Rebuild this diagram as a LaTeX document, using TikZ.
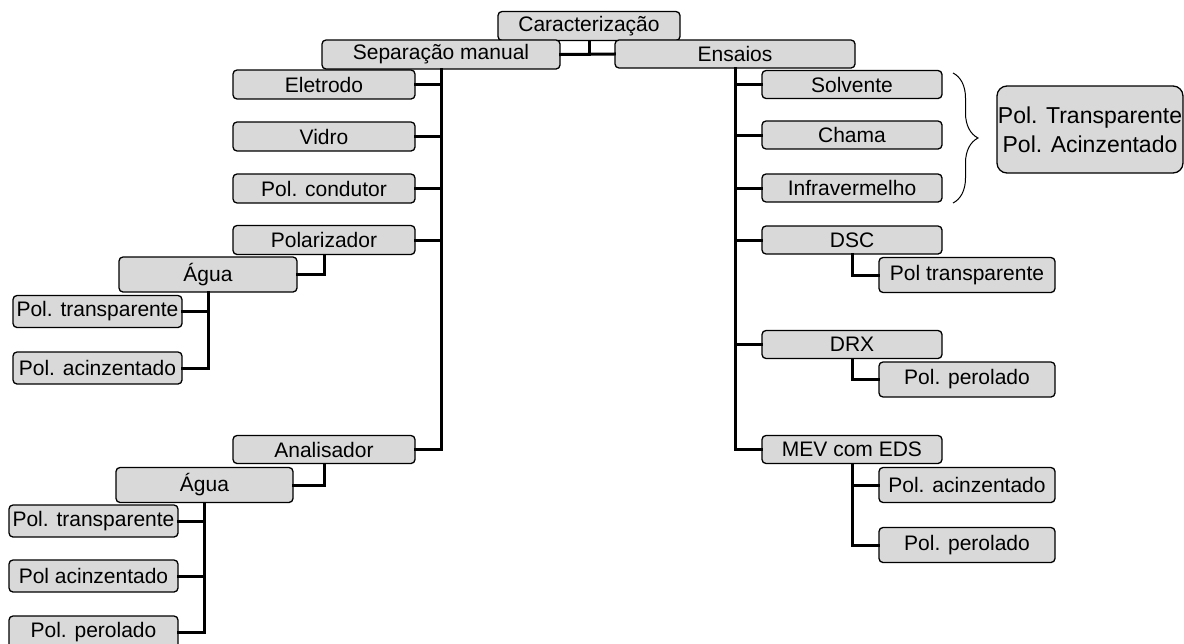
\documentclass[tikz,border=0pt]{standalone}
\usepackage{fontspec}
\setmainfont{Liberation Sans}
\usetikzlibrary{decorations.pathreplacing}
\begin{document}
\begin{tikzpicture}[x=1pt,y=-1pt,
  bx/.style={draw=black,line width=1.3pt,fill=gray!30,rounded corners=4pt,
    inner sep=0pt,minimum width=182pt,minimum height=29pt,
    font=\fontsize{21}{24}\selectfont},
  cbx/.style={bx,minimum width=176pt,minimum height=35pt},
  lbx/.style={bx,minimum width=169pt,minimum height=32pt},
  ln/.style={line width=3pt,line cap=rect}]
\useasboundingbox (0,0) rectangle (1184,643);
% top
\node[bx] (car) at (589,26) {Caracterização};
\node[bx,minimum width=238pt] (sep) at (441,54.5) {Separação manual};
\node[bx,minimum width=240pt,minimum height=28pt] (ens) at (735,54) {Ensaios};
% left
\node[bx] (ele) at (324,84.5) {Eletrodo};
\node[bx] (vid) at (324,136.5) {Vidro};
\node[bx] (con) at (324,188.5) {Pol. condutor};
\node[bx] (pol) at (324,240) {Polarizador};
\node[cbx,minimum width=178pt] (ag1) at (208,274.5) {Água};
\node[lbx] (pt1) at (97.5,311.5) {Pol. transparente};
\node[lbx] (pa1) at (97.5,368) {Pol. acinzentado};
\node[bx,minimum height=28pt] (ana) at (324,449.5) {Analisador};
\node[cbx,minimum width=177pt] (ag2) at (204.5,485) {Água};
\node[lbx] (pt2) at (93.5,521) {Pol. transparente};
\node[lbx] (pa2) at (93.5,576) {Pol acinzentado};
\node[lbx] (pp2) at (93.5,632) {Pol. perolado};
% right
\node[bx,minimum width=180pt,minimum height=28pt] (sol) at (852,84.5) {Solvente};
\node[bx,minimum width=180pt,minimum height=28pt] (cha) at (852,135) {Chama};
\node[bx,minimum width=180pt,minimum height=28pt] (inf) at (852,188) {Infravermelho};
\node[bx,minimum width=180pt,minimum height=28pt] (dsc) at (852,240) {DSC};
\node[cbx] (dscc) at (967,275) {Pol transparente};
\node[bx,minimum width=180pt,minimum height=28pt] (drx) at (852,344.5) {DRX};
\node[cbx] (drxc) at (967,379.5) {Pol. perolado};
\node[bx,minimum width=180pt,minimum height=28pt] (mev) at (852,449.5) {MEV com EDS};
\node[cbx] (mev1) at (967,485) {Pol. acinzentado};
\node[cbx] (mev2) at (967,545) {Pol. perolado};
\node[bx,minimum width=186pt,minimum height=87pt,rounded corners=10pt,
  align=center,font=\fontsize{23}{29}\selectfont] (big) at (1090,129.5)
  {Pol. Transparente\\Pol. Acinzentado};
% brace
\coordinate (bt) at (953,73);
\coordinate (bb) at (953,203);
\draw[line width=1pt,decorate,decoration={brace,amplitude=25pt,aspect=0.5}] (bt) -- (bb);
% connectors
\draw[ln] (car.south) -- (car.south |- ens.west);
\draw[ln] (sep.east) -- (ens.west);
\draw[ln] (sep.south) |- (ana.east);
\foreach \n in {ele,vid,con,pol} \draw[ln] (\n.east) -- (\n.east -| sep.south);
\draw[ln] (pol.south) |- (ag1.east);
\draw[ln] (ag1.south) |- (pa1.east);
\draw[ln] (pt1.east) -- (pt1.east -| ag1.south);
\draw[ln] (ana.south) |- (ag2.east);
\draw[ln] (ag2.south) |- (pp2.east);
\foreach \n in {pt2,pa2} \draw[ln] (\n.east) -- (\n.east -| ag2.south);
\draw[ln] (ens.south) |- (mev.west);
\foreach \n in {sol,cha,inf,dsc,drx} \draw[ln] (\n.west) -- (\n.west -| ens.south);
\draw[ln] (dsc.south) |- (dscc.west);
\draw[ln] (drx.south) |- (drxc.west);
\draw[ln] (mev.south) |- (mev2.west);
\draw[ln] (mev1.west) -- (mev1.west -| mev.south);
\end{tikzpicture}
\end{document}
